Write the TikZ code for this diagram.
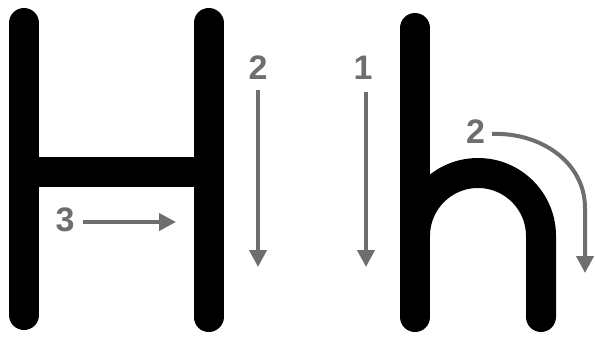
\documentclass[tikz,border=0pt]{standalone}
\usepackage{fontspec}
\setmainfont{Liberation Sans}
\usetikzlibrary{arrows.meta}
\definecolor{stepgray}{RGB}{110,110,110}
\tikzset{
  letter/.style={line width=30pt, line cap=round, black},
  guide/.style={line width=4pt, stepgray, -{Triangle[length=17pt,width=17pt]}},
  stepnum/.style={text=stepgray, inner sep=0pt, font=\fontsize{34}{40}\selectfont\bfseries}
}
\begin{document}
\begin{tikzpicture}[x=1pt,y=-1pt]
  \useasboundingbox (0,0) rectangle (595,338);
  % Letter H
  \draw[letter] (24,23) -- (24,315);
  \draw[letter] (208.5,23) -- (208.5,317);
  \draw[letter, line cap=butt] (24,171.5) -- (208.5,171.5);
  % Letter h
  \draw[letter] (415,28) -- (415,317);
  \draw[letter] (415,236) .. controls (415,201.2) and (443.2,173) .. (478,173)
    .. controls (512.8,173) and (541,201.2) .. (541,236) -- (541,317);
  % Step numbers
  \node[stepnum] (numH2) at (258,67.5) {2};
  \node[stepnum] (numH3) at (65,220) {3};
  \node[stepnum] (numh1) at (363,68) {1};
  \node[stepnum] (numh2) at (475.5,131.5) {2};
  % Stroke directions
  \coordinate (H2top) at (258,90);
  \coordinate (H2end) at (258,267);
  \coordinate (H3start) at (83,222);
  \coordinate (H3end) at (176,222);
  \coordinate (h1top) at (366,92);
  \coordinate (h1end) at (366,267);
  \coordinate (h2start) at (492,134);
  \coordinate (h2end) at (585,273);
  \draw[guide] (H2top) -- (H2end);
  \draw[guide] (H3start) -- (H3end);
  \draw[guide] (h1top) -- (h1end);
  \draw[guide] (h2start) .. controls (540,132) and (585,162) .. (585,208) -- (h2end);
\end{tikzpicture}
\end{document}
